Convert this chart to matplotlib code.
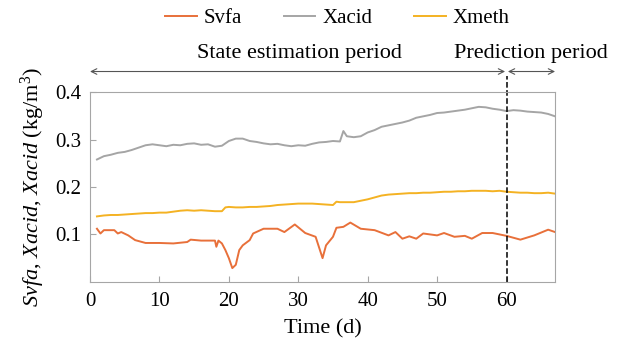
import matplotlib
matplotlib.use("Agg")
from matplotlib import pyplot as plt

plt.rcParams['font.family'] = ['Liberation Serif', 'DejaVu Serif']
plt.rcParams['mathtext.fontset'] = 'custom'
plt.rcParams['mathtext.rm'] = 'Liberation Serif'
plt.rcParams['mathtext.it'] = 'Liberation Serif:italic'

# Xacid (gray)
t_acid = [1, 2, 3, 4, 5, 6, 7, 8, 9, 10, 11, 12, 13, 14, 15, 16, 17, 18, 19, 20,
          21, 22, 23, 24, 25, 26, 27, 28, 29, 30, 31, 32, 33, 34, 35, 36, 36.5, 37,
          38, 39, 40, 41, 42, 43, 44, 45, 46, 47, 48, 49, 50, 51, 52, 53, 54, 55,
          56, 57, 58, 59, 60, 61, 62, 63, 64, 65, 66, 67]
xacid = [.258, .265, .268, .272, .274, .278, .283, .288, .290, .288, .286, .289, .288,
         .291, .292, .289, .290, .285, .287, .297, .302, .302, .297, .295, .292, .290,
         .291, .288, .286, .288, .287, .291, .294, .295, .297, .296, .318, .307, .305,
         .307, .315, .320, .327, .330, .333, .336, .340, .346, .349, .352, .356, .357,
         .359, .361, .363, .366, .369, .368, .365, .363, .360, .362, .361, .359, .358,
         .357, .354, .349]

# Xmeth (yellow)
t_meth = [1, 2, 3, 4, 5, 6, 7, 8, 9, 10, 11, 12, 13, 14, 15, 16, 17, 18, 19, 19.5,
          20, 21, 22, 23, 24, 25, 26, 27, 28, 29, 30, 31, 32, 33, 34, 35, 35.5, 36,
          37, 38, 39, 40, 41, 42, 43, 44, 45, 46, 47, 48, 49, 50, 51, 52, 53, 54,
          55, 56, 57, 58, 59, 60, 61, 62, 63, 64, 65, 66, 67]
xmeth = [.138, .140, .141, .141, .142, .143, .144, .145, .145, .146, .146, .148, .150,
         .151, .150, .151, .150, .149, .149, .157, .158, .157, .157, .158, .158, .159,
         .160, .162, .163, .164, .165, .165, .165, .164, .163, .162, .169, .168, .168,
         .168, .171, .174, .178, .182, .184, .185, .186, .187, .187, .188, .188, .189,
         .190, .190, .191, .191, .192, .192, .192, .191, .192, .190, .189, .188, .188,
         .187, .187, .188, .186]

# Svfa (orange)
t_vfa = [1, 1.5, 2, 3.5, 4, 4.5, 5.5, 6.5, 8, 10, 12, 14, 14.5, 16, 18, 18.2, 18.5,
         19, 19.5, 20, 20.5, 21, 21.5, 22, 23, 23.5, 25, 27, 28, 29.5, 31, 32.5, 33.5,
         34, 35, 35.5, 36.5, 37.5, 39, 41, 43, 44, 45, 46, 47, 48, 50, 51, 52.5, 54,
         55, 56.5, 58, 60, 62, 64, 66, 67]
svfa = [.112, .102, .109, .109, .102, .105, .098, .088, .082, .082, .081, .084, .089,
        .087, .087, .074, .087, .081, .067, .050, .029, .036, .067, .077, .088, .102,
        .112, .112, .105, .121, .103, .095, .050, .077, .095, .114, .116, .125, .112,
        .109, .098, .105, .091, .096, .091, .102, .098, .103, .095, .097, .091, .103,
        .103, .097, .089, .098, .110, .105]

split_day = 60
x_max = 67

fig = plt.figure(figsize=(6.23, 3.4), dpi=100)
ax = fig.add_axes([0.1445, 0.171, 0.7465, 0.558])

ax.plot(t_vfa, svfa, color='#E8703A', lw=1.4, label='Svfa')
ax.plot(t_acid, xacid, color='#A5A5A5', lw=1.4, label='Xacid')
ax.plot(t_meth, xmeth, color='#F4B223', lw=1.4, label='Xmeth')

ax.set_xlim(0, x_max)
ax.set_ylim(0, 0.4)
ax.set_xticks(range(0, 61, 10))
ax.set_yticks([0.1, 0.2, 0.3, 0.4])
ax.set_yticklabels(['0.1', '0.2', '0.3', '0.4'])
for s in ax.spines.values():
    s.set_color('#A6A6A6')
ax.tick_params(direction='in', length=4, color='#A6A6A6', labelsize=15, pad=6)
ax.tick_params(axis='x', pad=7)

# dashed divider, running above the axes up to the arrows
ax.plot([split_day, split_day], [0, 0.433], color='black', ls='--', lw=1.1, clip_on=False)

arr_y = 0.4435
arrow_kw = dict(arrowstyle='<->', color='#555555', lw=0.8, shrinkA=0, shrinkB=0)
ax.annotate('', xy=(0, arr_y), xytext=(split_day - 0.2, arr_y), annotation_clip=False,
            arrowprops=arrow_kw)
ax.annotate('', xy=(split_day + 0.2, arr_y), xytext=(x_max, arr_y), annotation_clip=False,
            arrowprops=arrow_kw)
ax.text(30.1, 0.471, 'State estimation period', ha='center', va='baseline', fontsize=16,
        clip_on=False)
ax.text(63.5, 0.471, 'Prediction period', ha='center', va='baseline', fontsize=16,
        clip_on=False)

ax.set_xlabel('Time (d)', fontsize=16, labelpad=6)
ax.set_ylabel(r'$\mathit{Svfa}$, $\mathit{Xacid}$, $\mathit{Xacid}$ (kg/m$^3$)',
              fontsize=16, labelpad=6)

fig.legend(loc='center', bbox_to_anchor=(0.542, 0.947), ncol=3, frameon=False,
           fontsize=15, handlelength=1.5, columnspacing=2.0, handletextpad=0.35)

fig.savefig('out.png', dpi=100)
